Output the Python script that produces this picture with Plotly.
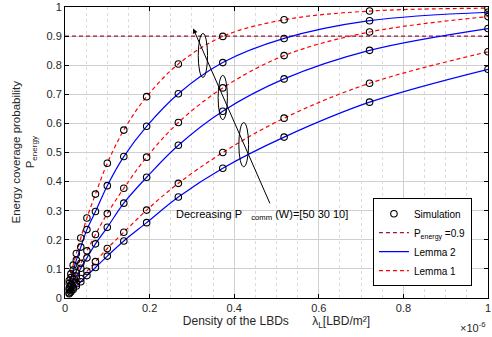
import plotly.graph_objects as go

# density of LBDs (x 1e-6 LBD/m^2)
lam = [0.01, 0.0139, 0.0193, 0.0268, 0.0373, 0.0518, 0.0720, 0.100, 0.139, 0.193, 0.268, 0.373, 0.518, 0.720, 1.0]

# Lemma 1 (red dashed) for P_comm = 50, 30, 10 W
lemma1_50 = [0.060, 0.083, 0.113, 0.153, 0.206, 0.275, 0.357, 0.463, 0.577, 0.692, 0.804, 0.899, 0.956, 0.986, 0.996]
lemma1_30 = [0.034, 0.046, 0.064, 0.087, 0.119, 0.162, 0.218, 0.290, 0.377, 0.484, 0.603, 0.722, 0.833, 0.914, 0.967]
lemma1_10 = [0.018, 0.026, 0.035, 0.049, 0.067, 0.092, 0.125, 0.170, 0.226, 0.302, 0.394, 0.500, 0.618, 0.738, 0.846]

# Lemma 2 (blue solid)
lemma2_50 = [0.050, 0.070, 0.096, 0.130, 0.175, 0.235, 0.297, 0.386, 0.486, 0.590, 0.702, 0.809, 0.892, 0.953, 0.982]
lemma2_30 = [0.029, 0.040, 0.055, 0.075, 0.102, 0.138, 0.186, 0.243, 0.326, 0.415, 0.525, 0.642, 0.753, 0.851, 0.926]
lemma2_10 = [0.015, 0.021, 0.029, 0.041, 0.056, 0.077, 0.105, 0.144, 0.196, 0.259, 0.347, 0.446, 0.553, 0.673, 0.786]

p_target = 0.9
x_ticks = [0, 0.2, 0.4, 0.6, 0.8, 1]
x_tick_text = ["0", "0.2", "0.4", "0.6", "0.8", "1"]
y_ticks = [0, 0.1, 0.2, 0.3, 0.4, 0.5, 0.6, 0.7, 0.8, 0.9, 1]
y_tick_text = ["0", "0.1", "0.2", "0.3", "0.4", "0.5", "0.6", "0.7", "0.8", "0.9", "1"]

FONT = "Liberation Sans, Arial, sans-serif"
TXT = "#262626"

fig = go.Figure()

# target line
fig.add_trace(go.Scatter(x=[0, 1], y=[p_target, p_target], mode="lines",
                         line=dict(color="#A2142F", width=1.2, dash="4px,3px"),
                         name="P<sub>energy</sub> =0.9", legendrank=2))

for i, ys in enumerate([lemma2_50, lemma2_30, lemma2_10]):
    fig.add_trace(go.Scatter(x=lam, y=ys, mode="lines", line=dict(color="#0000FF", width=1.2, shape="spline"),
                             name="Lemma 2", showlegend=(i == 0), legendrank=3))
for i, ys in enumerate([lemma1_50, lemma1_30, lemma1_10]):
    fig.add_trace(go.Scatter(x=lam, y=ys, mode="lines",
                             line=dict(color="#FF0000", width=1.2, dash="4px,3px", shape="spline"),
                             name="Lemma 1", showlegend=(i == 0), legendrank=4))

for i, ys in enumerate([lemma1_50, lemma2_50, lemma1_30, lemma2_30, lemma1_10, lemma2_10]):
    fig.add_trace(go.Scatter(x=lam, y=ys, mode="markers",
                             marker=dict(symbol="circle-open", size=6.5, color="black", line=dict(width=1.1)),
                             name="Simulation", showlegend=(i == 0), legendrank=1))

# ellipses
for (x0, x1, y0, y1) in [(0.315, 0.337, 0.758, 0.909), (0.362, 0.384, 0.613, 0.765), (0.411, 0.434, 0.451, 0.603)]:
    fig.add_shape(type="circle", xref="x", yref="y", x0=x0, x1=x1, y0=y0, y1=y1,
                  line=dict(color="black", width=1))

fig.add_annotation(x=0.303, y=0.926, ax=0.486, ay=0.32, xref="x", yref="y", axref="x", ayref="y",
                   text="", showarrow=True, arrowhead=2, arrowsize=1, arrowwidth=1, arrowcolor="black")
fig.add_annotation(x=0.258, y=0.285, xref="x", yref="y", xanchor="left", yanchor="middle",
                   text="Decreasing P\u00a0\u00a0\u00a0<sub>comm</sub>\u00a0(W)=[50 30 10]", showarrow=False,
                   font=dict(family=FONT, size=11, color="black"))

# x 10^-6
fig.add_annotation(x=1, y=-0.098, xref="paper", yref="paper", xanchor="right", yanchor="middle",
                   text="\u00d710<sup>-6</sup>", showarrow=False, font=dict(family=FONT, size=11, color=TXT))

# y title
fig.add_annotation(x=0, y=0.5, xref="paper", yref="paper", xanchor="center", yanchor="middle", xshift=-41,
                   textangle=-90, text="Energy coverage probability<br>P<sub>energy</sub>", showarrow=False,
                   font=dict(family=FONT, size=11.5, color=TXT))

fig.update_layout(
    width=492, height=337,
    margin=dict(l=65, r=1, t=7, b=39),
    paper_bgcolor="white", plot_bgcolor="white",
    font=dict(family=FONT, size=11, color=TXT),
    showlegend=True,
    legend=dict(x=0.728, y=0.343, xanchor="left", yanchor="top", bgcolor="white",
                bordercolor="black", borderwidth=1, font=dict(family=FONT, size=10, color="black"),
                itemwidth=30, tracegroupgap=0),
    xaxis=dict(range=[0, 1], tickvals=x_ticks, ticktext=x_tick_text, showgrid=True, gridcolor="#d0d0d0",
               gridwidth=1, zeroline=False, showline=True, linecolor="black", linewidth=1, mirror="ticks",
               ticks="inside", ticklen=4, tickcolor="black", ticklabeloverflow="allow",
               minor=dict(dtick=0.05, showgrid=True, gridcolor="#dcdcdc", griddash="dot", ticks=""),
               title=dict(text="Density of the LBDs\u00a0\u00a0\u00a0\u00a0\u00a0\u00a0\u00a0\u03bb<sub>L</sub>[LBD/m\u00b2]",
                          font=dict(family=FONT, size=12, color=TXT), standoff=2)),
    yaxis=dict(range=[0, 1], tickvals=y_ticks, ticktext=y_tick_text, showgrid=True, gridcolor="#d0d0d0",
               gridwidth=1, zeroline=False, showline=True, linecolor="black", linewidth=1, mirror="ticks",
               ticks="inside", ticklen=4, tickcolor="black"),
)

fig.write_html("out.html", config={"displayModeBar": False},
               post_script="document.body.style.margin='0';document.body.style.overflow='hidden';")
